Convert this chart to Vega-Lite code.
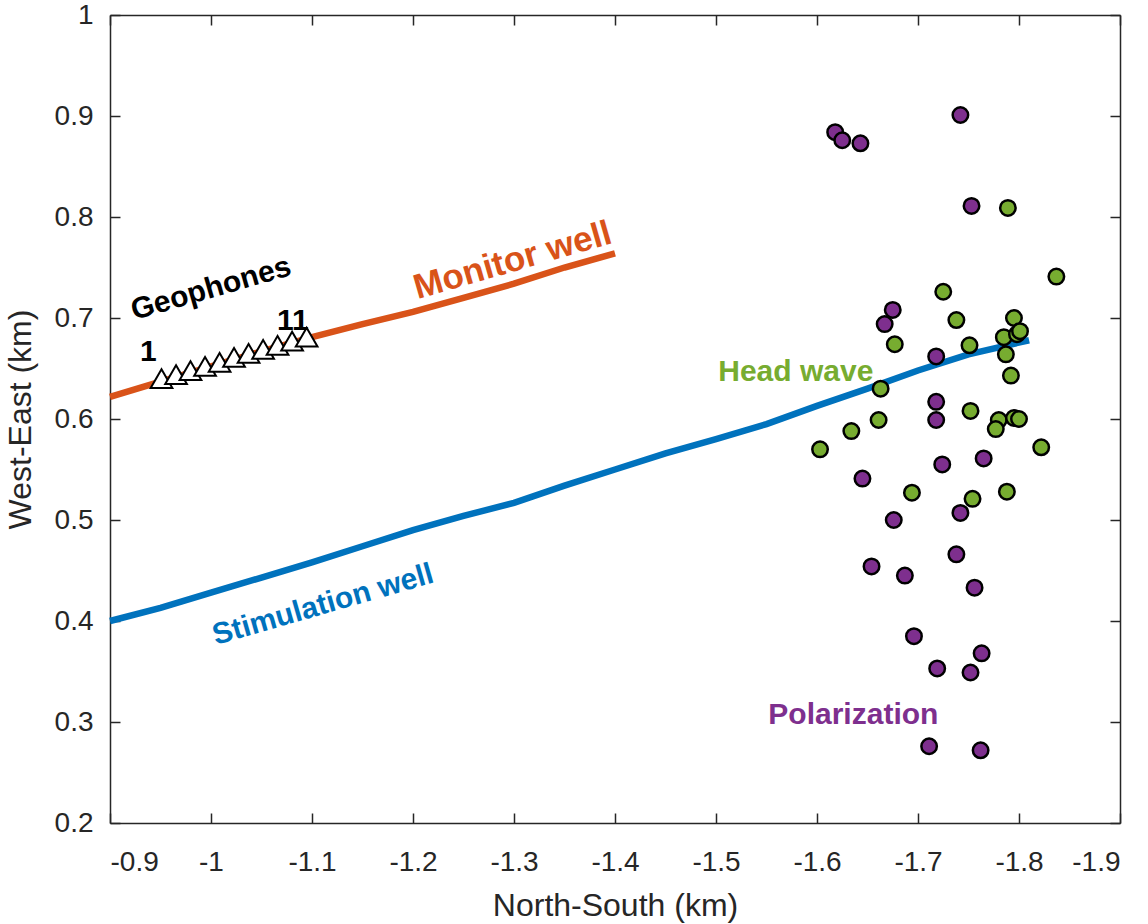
{
  "$schema": "https://vega.github.io/schema/vega-lite/v6.json",
  "width": 1010,
  "height": 808,
  "autosize": {"type": "none"},
  "padding": {"left": 110, "top": 15, "right": 28, "bottom": 101},
  "background": "white",
  "config": {
    "view": {"stroke": null},
    "font": "Liberation Sans",
    "axis": {
      "grid": false,
      "domainColor": "#262626",
      "domainWidth": 1.5,
      "tickColor": "#262626",
      "tickWidth": 1.5,
      "tickSize": -10,
      "labelFont": "Liberation Sans",
      "labelFontSize": 28,
      "labelColor": "#262626",
      "titleFont": "Liberation Sans",
      "titleFontSize": 32,
      "titleFontWeight": "normal",
      "titleColor": "#262626"
    }
  },
  "datasets": {
    "wells": [
      {"ns": -0.90, "we": 0.622, "group": "Monitor well"},
      {"ns": -0.95, "we": 0.637, "group": "Monitor well"},
      {"ns": -1.00, "we": 0.652, "group": "Monitor well"},
      {"ns": -1.05, "we": 0.667, "group": "Monitor well"},
      {"ns": -1.10, "we": 0.681, "group": "Monitor well"},
      {"ns": -1.15, "we": 0.694, "group": "Monitor well"},
      {"ns": -1.20, "we": 0.706, "group": "Monitor well"},
      {"ns": -1.25, "we": 0.720, "group": "Monitor well"},
      {"ns": -1.30, "we": 0.734, "group": "Monitor well"},
      {"ns": -1.35, "we": 0.750, "group": "Monitor well"},
      {"ns": -1.40, "we": 0.764, "group": "Monitor well"},
      {"ns": -0.90, "we": 0.400, "group": "Stimulation well"},
      {"ns": -0.95, "we": 0.413, "group": "Stimulation well"},
      {"ns": -1.00, "we": 0.428, "group": "Stimulation well"},
      {"ns": -1.05, "we": 0.443, "group": "Stimulation well"},
      {"ns": -1.10, "we": 0.458, "group": "Stimulation well"},
      {"ns": -1.15, "we": 0.474, "group": "Stimulation well"},
      {"ns": -1.20, "we": 0.490, "group": "Stimulation well"},
      {"ns": -1.25, "we": 0.504, "group": "Stimulation well"},
      {"ns": -1.30, "we": 0.517, "group": "Stimulation well"},
      {"ns": -1.35, "we": 0.534, "group": "Stimulation well"},
      {"ns": -1.40, "we": 0.550, "group": "Stimulation well"},
      {"ns": -1.45, "we": 0.566, "group": "Stimulation well"},
      {"ns": -1.50, "we": 0.580, "group": "Stimulation well"},
      {"ns": -1.55, "we": 0.595, "group": "Stimulation well"},
      {"ns": -1.60, "we": 0.613, "group": "Stimulation well"},
      {"ns": -1.65, "we": 0.630, "group": "Stimulation well"},
      {"ns": -1.70, "we": 0.648, "group": "Stimulation well"},
      {"ns": -1.75, "we": 0.664, "group": "Stimulation well"},
      {"ns": -1.81, "we": 0.678, "group": "Stimulation well"}
    ],
    "geophones": [
      {"ns": -0.951, "we": 0.640, "id": 1},
      {"ns": -0.9654, "we": 0.644, "id": 2},
      {"ns": -0.9797, "we": 0.648, "id": 3},
      {"ns": -0.9941, "we": 0.652, "id": 4},
      {"ns": -1.0085, "we": 0.656, "id": 5},
      {"ns": -1.0228, "we": 0.661, "id": 6},
      {"ns": -1.0372, "we": 0.665, "id": 7},
      {"ns": -1.0516, "we": 0.669, "id": 8},
      {"ns": -1.0659, "we": 0.673, "id": 9},
      {"ns": -1.0803, "we": 0.677, "id": 10},
      {"ns": -1.0947, "we": 0.681, "id": 11}
    ],
    "events": [
      {"ns": -1.742, "we": 0.901, "group": "Polarization"},
      {"ns": -1.618, "we": 0.884, "group": "Polarization"},
      {"ns": -1.625, "we": 0.876, "group": "Polarization"},
      {"ns": -1.643, "we": 0.873, "group": "Polarization"},
      {"ns": -1.753, "we": 0.811, "group": "Polarization"},
      {"ns": -1.675, "we": 0.708, "group": "Polarization"},
      {"ns": -1.667, "we": 0.694, "group": "Polarization"},
      {"ns": -1.718, "we": 0.662, "group": "Polarization"},
      {"ns": -1.718, "we": 0.617, "group": "Polarization"},
      {"ns": -1.718, "we": 0.599, "group": "Polarization"},
      {"ns": -1.765, "we": 0.561, "group": "Polarization"},
      {"ns": -1.724, "we": 0.555, "group": "Polarization"},
      {"ns": -1.645, "we": 0.541, "group": "Polarization"},
      {"ns": -1.742, "we": 0.507, "group": "Polarization"},
      {"ns": -1.676, "we": 0.500, "group": "Polarization"},
      {"ns": -1.738, "we": 0.466, "group": "Polarization"},
      {"ns": -1.654, "we": 0.454, "group": "Polarization"},
      {"ns": -1.687, "we": 0.445, "group": "Polarization"},
      {"ns": -1.756, "we": 0.433, "group": "Polarization"},
      {"ns": -1.696, "we": 0.385, "group": "Polarization"},
      {"ns": -1.763, "we": 0.368, "group": "Polarization"},
      {"ns": -1.719, "we": 0.353, "group": "Polarization"},
      {"ns": -1.752, "we": 0.349, "group": "Polarization"},
      {"ns": -1.711, "we": 0.276, "group": "Polarization"},
      {"ns": -1.762, "we": 0.272, "group": "Polarization"},
      {"ns": -1.789, "we": 0.809, "group": "Head wave"},
      {"ns": -1.837, "we": 0.741, "group": "Head wave"},
      {"ns": -1.725, "we": 0.726, "group": "Head wave"},
      {"ns": -1.738, "we": 0.698, "group": "Head wave"},
      {"ns": -1.795, "we": 0.700, "group": "Head wave"},
      {"ns": -1.677, "we": 0.674, "group": "Head wave"},
      {"ns": -1.751, "we": 0.673, "group": "Head wave"},
      {"ns": -1.785, "we": 0.681, "group": "Head wave"},
      {"ns": -1.798, "we": 0.684, "group": "Head wave"},
      {"ns": -1.801, "we": 0.687, "group": "Head wave"},
      {"ns": -1.787, "we": 0.664, "group": "Head wave"},
      {"ns": -1.792, "we": 0.643, "group": "Head wave"},
      {"ns": -1.663, "we": 0.630, "group": "Head wave"},
      {"ns": -1.752, "we": 0.608, "group": "Head wave"},
      {"ns": -1.661, "we": 0.599, "group": "Head wave"},
      {"ns": -1.634, "we": 0.588, "group": "Head wave"},
      {"ns": -1.603, "we": 0.570, "group": "Head wave"},
      {"ns": -1.780, "we": 0.599, "group": "Head wave"},
      {"ns": -1.795, "we": 0.601, "group": "Head wave"},
      {"ns": -1.800, "we": 0.600, "group": "Head wave"},
      {"ns": -1.777, "we": 0.590, "group": "Head wave"},
      {"ns": -1.822, "we": 0.572, "group": "Head wave"},
      {"ns": -1.694, "we": 0.527, "group": "Head wave"},
      {"ns": -1.754, "we": 0.521, "group": "Head wave"},
      {"ns": -1.788, "we": 0.528, "group": "Head wave"}
    ],
    "tiltedLabels": [
      {"ns": -1.000, "we": 0.729, "label": "Geophones", "group": "Geophones"},
      {"ns": -1.111, "we": 0.416, "label": "Stimulation well", "group": "Stimulation well"}
    ],
    "monitorLabel": [
      {"ns": -1.2985, "we": 0.757, "label": "Monitor well", "group": "Monitor well"}
    ],
    "flatLabels": [
      {"ns": -0.938, "we": 0.666, "label": "1", "group": "Geophones"},
      {"ns": -1.081, "we": 0.697, "label": "11", "group": "Geophones"},
      {"ns": -1.579, "we": 0.647, "label": "Head wave", "group": "Head wave"},
      {"ns": -1.636, "we": 0.307, "label": "Polarization", "group": "Polarization"}
    ]
  },
  "resolve": {"axis": {"x": "independent", "y": "independent"}},
  "layer": [
    {
      "data": {"name": "wells"},
      "mark": {"type": "line", "strokeWidth": 6.5, "strokeCap": "butt"},
      "encoding": {
        "x": {"field": "ns", "type": "quantitative",
          "scale": {"domain": [-1.9, -0.9], "reverse": true, "nice": false, "zero": false},
          "axis": {"orient": "bottom", "values": [-1.9, -1.8, -1.7, -1.6, -1.5, -1.4, -1.3, -1.2, -1.1, -1.0, -0.9],
            "labelExpr": "'' + datum.value", "labelPadding": 35, "title": "North-South (km)", "titlePadding": 14}},
        "y": {"field": "we", "type": "quantitative",
          "scale": {"domain": [0.2, 1.0], "nice": false, "zero": false},
          "axis": {"orient": "left", "values": [0.2, 0.3, 0.4, 0.5, 0.6, 0.7, 0.8, 0.9, 1.0],
            "labelExpr": "'' + datum.value", "labelPadding": 27, "title": "West-East (km)", "titlePadding": 17}},
        "color": {"field": "group", "type": "nominal",
          "scale": {"domain": ["Monitor well", "Stimulation well", "Head wave", "Polarization", "Geophones"],
            "range": ["#D95319", "#0072BD", "#77AC30", "#7E2F8E", "#000000"]}, "legend": null},
        "detail": {"field": "group"}
      }
    },
    {
      "data": {"name": "geophones"},
      "mark": {"type": "point", "shape": "triangle-up", "filled": true, "fill": "white", "stroke": "black", "strokeWidth": 2, "size": 470, "opacity": 1},
      "encoding": {
        "x": {"field": "ns", "type": "quantitative",
          "axis": {"orient": "top", "values": [-1.9, -1.8, -1.7, -1.6, -1.5, -1.4, -1.3, -1.2, -1.1, -1.0, -0.9], "labels": false, "title": null}},
        "y": {"field": "we", "type": "quantitative",
          "axis": {"orient": "right", "values": [0.2, 0.3, 0.4, 0.5, 0.6, 0.7, 0.8, 0.9, 1.0], "labels": false, "title": null}}
      }
    },
    {
      "data": {"name": "events"},
      "mark": {"type": "point", "shape": "circle", "filled": true, "stroke": "black", "strokeWidth": 2.5, "size": 240, "opacity": 1},
      "encoding": {
        "x": {"field": "ns", "type": "quantitative", "axis": null},
        "y": {"field": "we", "type": "quantitative", "axis": null},
        "color": {"field": "group", "type": "nominal", "legend": null}
      }
    },
    {
      "data": {"name": "tiltedLabels"},
      "mark": {"type": "text", "angle": -16, "fontSize": 30, "fontWeight": "bold", "font": "Liberation Sans", "align": "center", "baseline": "middle"},
      "encoding": {
        "x": {"field": "ns", "type": "quantitative", "axis": null},
        "y": {"field": "we", "type": "quantitative", "axis": null},
        "text": {"field": "label"},
        "color": {"field": "group", "type": "nominal", "legend": null}
      }
    },
    {
      "data": {"name": "monitorLabel"},
      "mark": {"type": "text", "angle": -16, "fontSize": 35, "fontWeight": "bold", "font": "Liberation Sans", "align": "center", "baseline": "middle"},
      "encoding": {
        "x": {"field": "ns", "type": "quantitative", "axis": null},
        "y": {"field": "we", "type": "quantitative", "axis": null},
        "text": {"field": "label"},
        "color": {"field": "group", "type": "nominal", "legend": null}
      }
    },
    {
      "data": {"name": "flatLabels"},
      "mark": {"type": "text", "fontSize": 30, "fontWeight": "bold", "font": "Liberation Sans", "align": "center", "baseline": "middle"},
      "encoding": {
        "x": {"field": "ns", "type": "quantitative", "axis": null},
        "y": {"field": "we", "type": "quantitative", "axis": null},
        "text": {"field": "label"},
        "color": {"field": "group", "type": "nominal", "legend": null}
      }
    }
  ]
}
